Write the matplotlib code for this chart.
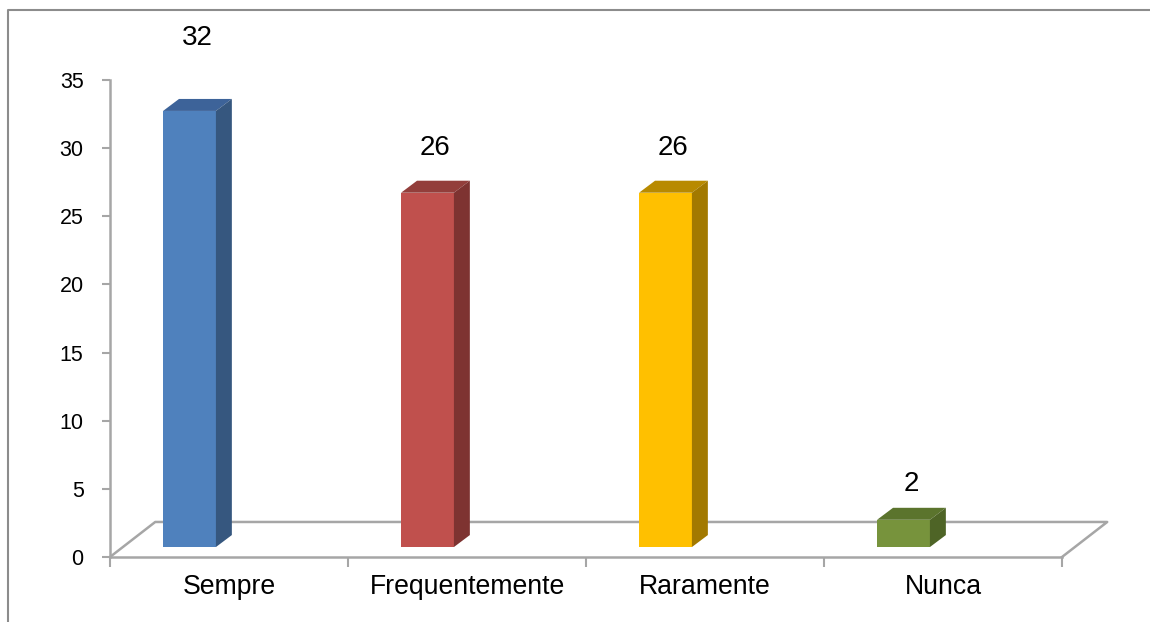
import matplotlib
matplotlib.use('Agg')
import matplotlib.pyplot as plt
from matplotlib.patches import Polygon

plt.rcParams['font.family'] = ['Liberation Sans', 'DejaVu Sans']

# survey answers
categorias = ['Sempre', 'Frequentemente', 'Raramente', 'Nunca']
valores = [32, 26, 26, 2]

cores_frente = ['#4F81BD', '#C0504D', '#FFC000', '#77933C']
cores_topo = ['#3D6399', '#933E3B', '#B88A00', '#5B742D']
cores_lado = ['#36577F', '#7E3331', '#A27900', '#4E6426']
label_gap = [5.35, 3.3, 3.3, 2.6]

# fake 3d geometry (x in category units, y in data units)
floor_dx, floor_dy = 0.19, 2.57
base = 0.73
bar_x0, bar_w = 0.223, 0.222
depth_dx, depth_dy = 0.067, 0.88
grey = '#A6A6A6'

fig = plt.figure(figsize=(11.5, 6.22), dpi=100)
ax = fig.add_axes([110 / 1150, 65 / 622, 952 / 1150, 477 / 622])
ax.set_xlim(0, 4)
ax.set_ylim(0, 35)

# floor of the 3d plot
ax.plot([0, floor_dx, 4 + floor_dx, 4], [0, floor_dy, floor_dy, 0],
        color=grey, lw=1.8, clip_on=False, zorder=1)

for i, v in enumerate(valores):
    x0 = i + bar_x0
    x1 = x0 + bar_w
    y0 = base
    y1 = base + v
    front = Polygon([(x0, y0), (x1, y0), (x1, y1), (x0, y1)],
                    closed=True, fc=cores_frente[i], ec='none', zorder=3, clip_on=False)
    top = Polygon([(x0, y1), (x0 + depth_dx, y1 + depth_dy),
                   (x1 + depth_dx, y1 + depth_dy), (x1, y1)],
                  closed=True, fc=cores_topo[i], ec='none', zorder=3, clip_on=False)
    side = Polygon([(x1, y0), (x1 + depth_dx, y0 + depth_dy),
                    (x1 + depth_dx, y1 + depth_dy), (x1, y1)],
                   closed=True, fc=cores_lado[i], ec='none', zorder=3, clip_on=False)
    for p in (front, top, side):
        ax.add_patch(p)
    ax.text(x0 + bar_w / 2 + depth_dx / 2, y1 + label_gap[i], str(v),
            ha='center', va='center', fontsize=20, color='black', clip_on=False)

for s in ['top', 'right']:
    ax.spines[s].set_visible(False)
for s in ['left', 'bottom']:
    ax.spines[s].set_color(grey)
    ax.spines[s].set_linewidth(1.8)

ax.set_yticks(range(0, 36, 5))
ax.tick_params(axis='y', length=6, width=1.5, color=grey, pad=13, labelsize=15.5)
ax.set_xticks([0, 1, 2, 3, 4])
ax.set_xticklabels([])
ax.set_xticks([0.5, 1.5, 2.5, 3.5], minor=True)
ax.set_xticklabels(categorias, minor=True)
ax.tick_params(axis='x', which='major', length=7, width=1.5, color=grey)
ax.tick_params(axis='x', which='minor', length=0, pad=12, labelsize=19.2)

# chart area border
fig.add_artist(plt.Line2D([8 / 1150, 8 / 1150, 1.0], [0, 1 - 10 / 622, 1 - 10 / 622],
                          transform=fig.transFigure, color='#8C8C8C', lw=1.5))

fig.savefig('out.png', dpi=100)
